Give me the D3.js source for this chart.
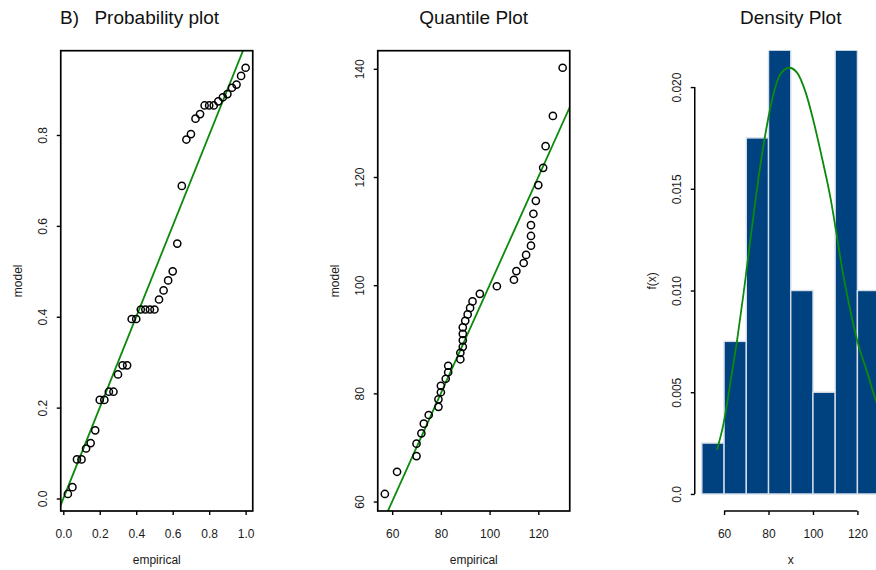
<!DOCTYPE html>
<html>
<head>
<meta charset="utf-8">
<script src="https://cdn.jsdelivr.net/npm/d3@7"></script>
<style>
  html, body { margin: 0; padding: 0; background: #fff; }
  svg { display: block; font-family: "Liberation Sans", Arial, Helvetica, sans-serif; }
</style>
</head>
<body>
<svg id="chart" width="876" height="570"></svg>
<script>
// Sorted sample (n = 40)
const empirical = [57, 62, 70, 70, 72, 73, 75, 79, 79, 80,
                   80, 82, 83, 83, 88, 88, 89, 89, 89, 89,
                   90, 91, 92, 93, 96, 103, 110, 111, 114, 115,
                   117, 117, 117, 118, 119, 120, 122, 123, 126, 130];

// Empirical cumulative probability of each sorted observation
const empiricalProb = [0.025, 0.05, 0.075, 0.1, 0.125, 0.15, 0.175, 0.2, 0.225, 0.25,
                       0.275, 0.3, 0.325, 0.35, 0.375, 0.4, 0.425, 0.45, 0.475, 0.5,
                       0.525, 0.55, 0.575, 0.6, 0.625, 0.65, 0.675, 0.7, 0.725, 0.75,
                       0.775, 0.8, 0.825, 0.85, 0.875, 0.9, 0.925, 0.95, 0.975, 1.0];

// Fitted-model cumulative probability at each observation
const modelProb = [0.010, 0.025, 0.086, 0.086, 0.110, 0.122, 0.150, 0.217, 0.217, 0.235,
                   0.235, 0.273, 0.293, 0.293, 0.395, 0.395, 0.416, 0.416, 0.416, 0.416,
                   0.438, 0.458, 0.480, 0.500, 0.561, 0.688, 0.790, 0.802, 0.836, 0.846,
                   0.865, 0.865, 0.865, 0.874, 0.883, 0.890, 0.904, 0.911, 0.930, 0.948];

// Fitted-model quantiles at the plotting positions
const modelQuantile = [61.4, 65.5, 68.4, 70.7, 72.6, 74.4, 76.0, 77.5, 78.9, 80.2,
                       81.4, 82.7, 83.9, 85.1, 86.3, 87.5, 88.6, 89.8, 91.0, 92.2,
                       93.4, 94.6, 95.8, 97.0, 98.4, 99.8, 101.0, 102.6, 104.1, 105.6,
                       107.3, 109.1, 111.1, 113.2, 115.6, 118.5, 121.7, 125.7, 131.3, 140.2];

// Histogram breaks
const histBreaks = [50, 60, 70, 80, 90, 100, 110, 120, 130];

// Fitted density curve
const densityX = [56.8, 59.8, 62.8, 65.9, 68.8, 71.1, 73.4, 75.6, 78.2, 80.1,
                  82.4, 85.4, 89.3, 92.9, 96.7, 100.4, 104.2, 108.0, 111.0, 113.2,
                  115.5, 120.0, 124.5, 128.2, 130.0];
const densityY = [0.00217, 0.00348, 0.00545, 0.00759, 0.00989, 0.01186, 0.01383, 0.01563, 0.01744, 0.01859,
                  0.01974, 0.02064, 0.02095, 0.02070, 0.01974, 0.01826, 0.01645, 0.01448, 0.01251, 0.01103,
                  0.00972, 0.00750, 0.00594, 0.00463, 0.00415];

// Axis ticks
const probTicks = [0, 0.2, 0.4, 0.6, 0.8, 1.0];
const probTickLabels = ["0.0", "0.2", "0.4", "0.6", "0.8", "1.0"];
const ppYTicks = [0, 0.2, 0.4, 0.6, 0.8];
const ppYTickLabels = ["0.0", "0.2", "0.4", "0.6", "0.8"];
const qqXTicks = [60, 80, 100, 120];
const qqYTicks = [60, 80, 100, 120, 140];
const densXTicks = [60, 80, 100, 120];
const densYTicks = [0, 0.005, 0.010, 0.015, 0.020];
const densYTickLabels = ["0.0", "0.005", "0.010", "0.015", "0.020"];

const GREEN = "#0b8a0b";
const BAR_FILL = "#00417f";

const svg = d3.select("#chart");
svg.append("rect").attr("width", 876).attr("height", 570).attr("fill", "#fff");

// plot-region geometry shared by the three panels
const regionTop = 50.7, regionBottom = 511, regionWidth = 192, panelStep = 317, firstLeft = 60.75;

// R-style 4% axis extension
function extend([a, b]) {
  const d = (b - a) * 0.04;
  return [a - d, b + d];
}

function makePanel(i, xDomain, yDomain, opts) {
  const left = firstLeft + i * panelStep;
  const right = left + regionWidth;
  const g = svg.append("g");
  const x = d3.scaleLinear().domain(xDomain).range([left, right]);
  const y = d3.scaleLinear().domain(yDomain).range([regionBottom, regionTop]);

  const clipId = "clip" + i;
  svg.append("clipPath").attr("id", clipId)
    .append("rect").attr("x", left).attr("y", regionTop)
    .attr("width", regionWidth).attr("height", regionBottom - regionTop);

  const plot = g.append("g").attr("clip-path", `url(#${clipId})`);

  // bottom axis
  const xAxis = g.append("g")
    .attr("transform", `translate(0,${regionBottom})`)
    .call(d3.axisBottom(x).tickValues(opts.xTicks).tickFormat((d, k) => opts.xLabels[k])
      .tickSize(4).tickSizeOuter(0));
  xAxis.select(".domain").remove();
  xAxis.selectAll("line").attr("stroke", "#000").attr("stroke-width", 1.4);
  xAxis.selectAll("text").attr("y", 26.5).attr("dy", null)
    .attr("font-size", 12).attr("fill", "#1a1a1a").attr("font-family", null);

  // left axis
  const yAxis = g.append("g")
    .attr("transform", `translate(${left},0)`)
    .call(d3.axisLeft(y).tickValues(opts.yTicks).tickFormat((d, k) => opts.yLabels[k])
      .tickSize(4).tickSizeOuter(0));
  yAxis.select(".domain").remove();
  yAxis.selectAll("line").attr("stroke", "#000").attr("stroke-width", 1.4);
  yAxis.selectAll("text")
    .attr("x", null).attr("y", null).attr("dy", null)
    .attr("text-anchor", "middle")
    .attr("transform", "translate(-14,0) rotate(-90)")
    .attr("font-size", 12).attr("fill", "#1a1a1a").attr("font-family", null);

  if (opts.box) {
    g.append("rect").attr("x", left).attr("y", regionTop)
      .attr("width", regionWidth).attr("height", regionBottom - regionTop)
      .attr("fill", "none").attr("stroke", "#000").attr("stroke-width", 1.7);
  } else {
    // axis lines spanning first to last tick
    g.append("line")
      .attr("x1", x(opts.xTicks[0])).attr("x2", x(opts.xTicks[opts.xTicks.length - 1]))
      .attr("y1", regionBottom).attr("y2", regionBottom)
      .attr("stroke", "#000").attr("stroke-width", 1.5);
    g.append("line")
      .attr("x1", left).attr("x2", left)
      .attr("y1", y(opts.yTicks[0])).attr("y2", y(opts.yTicks[opts.yTicks.length - 1]))
      .attr("stroke", "#000").attr("stroke-width", 1.5);
  }

  // titles
  const cx = (left + right) / 2;
  g.append("text").attr("x", cx).attr("y", 24).attr("text-anchor", "middle")
    .attr("font-size", 19).attr("fill", "#111").text(opts.title);
  g.append("text").attr("x", cx).attr("y", 563.5).attr("text-anchor", "middle")
    .attr("font-size", 12).attr("fill", "#1a1a1a").text(opts.xTitle);
  g.append("text").attr("transform", `translate(${left - 39},${(regionTop + regionBottom) / 2}) rotate(-90)`)
    .attr("text-anchor", "middle")
    .attr("font-size", 12).attr("fill", "#1a1a1a").text(opts.yTitle);

  return { g, plot, x, y, left, right };
}

function drawPoints(p, xs, ys) {
  p.plot.selectAll("circle.pt").data(xs).join("circle")
    .attr("class", "pt")
    .attr("cx", d => p.x(d))
    .attr("cy", (d, k) => p.y(ys[k]))
    .attr("r", 3.6)
    .attr("fill", "none").attr("stroke", "#000").attr("stroke-width", 1.5);
}

function identityLine(p) {
  const [a, b] = p.x.domain();
  const [c, d] = p.y.domain();
  const lo = Math.min(a, c), hi = Math.max(b, d);
  p.plot.append("line")
    .attr("x1", p.x(lo)).attr("y1", p.y(lo))
    .attr("x2", p.x(hi)).attr("y2", p.y(hi))
    .attr("stroke", GREEN).attr("stroke-width", 1.8);
}

// ---- Probability (P-P) plot ----
const pp = makePanel(0, extend(d3.extent(empiricalProb)), extend(d3.extent(modelProb)), {
  box: true, title: "Probability plot", xTitle: "empirical", yTitle: "model",
  xTicks: probTicks, xLabels: probTickLabels, yTicks: ppYTicks, yLabels: ppYTickLabels
});
pp.g.append("text").attr("x", 60).attr("y", 24).attr("font-size", 19).attr("fill", "#111").text("B)");
identityLine(pp);
drawPoints(pp, empiricalProb, modelProb);

// ---- Quantile (Q-Q) plot ----
const qq = makePanel(1, extend(d3.extent(empirical)), extend(d3.extent(modelQuantile)), {
  box: true, title: "Quantile Plot", xTitle: "empirical", yTitle: "model",
  xTicks: qqXTicks, xLabels: qqXTicks.map(String), yTicks: qqYTicks, yLabels: qqYTicks.map(String)
});
identityLine(qq);
drawPoints(qq, empirical, modelQuantile);

// ---- Density plot: histogram (right-closed bins) + fitted density ----
const n = empirical.length;
const bins = d3.pairs(histBreaks).map(([a, b], k) => {
  const count = empirical.filter(v => (k === 0 ? v >= a : v > a) && v <= b).length;
  return { a, b, density: count / (n * (b - a)) };
});
const dens = makePanel(2, extend([histBreaks[0], histBreaks[histBreaks.length - 1]]),
  [0 - d3.max(densityY) * 0.04, d3.max(densityY) * 1.04], {
  box: false, title: "Density Plot", xTitle: "x", yTitle: "f(x)",
  xTicks: densXTicks, xLabels: densXTicks.map(String), yTicks: densYTicks, yLabels: densYTickLabels
});
dens.plot.selectAll("rect.bar").data(bins).join("rect")
  .attr("class", "bar")
  .attr("x", d => dens.x(d.a))
  .attr("width", d => dens.x(d.b) - dens.x(d.a))
  .attr("y", d => dens.y(d.density))
  .attr("height", d => dens.y(0) - dens.y(d.density))
  .attr("fill", BAR_FILL).attr("stroke", "#d4dde8").attr("stroke-width", 1.4);

dens.plot.append("path")
  .datum(densityX.map((v, k) => [v, densityY[k]]))
  .attr("d", d3.line().x(d => dens.x(d[0])).y(d => dens.y(d[1])).curve(d3.curveMonotoneX))
  .attr("fill", "none").attr("stroke", GREEN).attr("stroke-width", 1.8);
</script>
</body>
</html>
